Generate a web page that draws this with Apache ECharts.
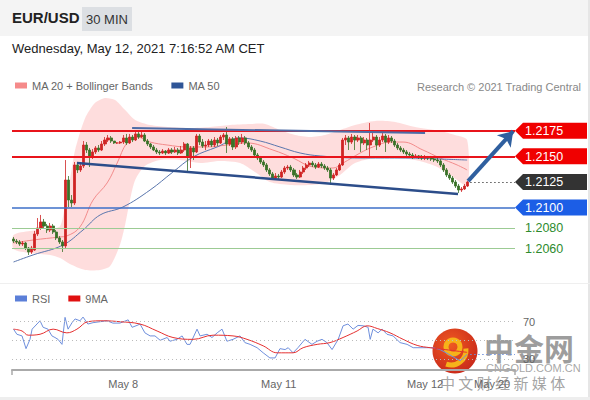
<!DOCTYPE html>
<html><head><meta charset="utf-8">
<script src="https://cdn.jsdelivr.net/npm/echarts@6/dist/echarts.min.js"></script>
<style>html,body{margin:0;padding:0;background:#fff}#c{width:590px;height:400px}</style>
</head><body><div id="c"></div><script>
// ---- data ----
const categoryCount = 165;
// [open, close, low, high]
const candles = [
[1.20692,1.20672,1.20653,1.20712],[1.20672,1.20663,1.20643,1.20692],[1.20663,1.20643,1.20624,1.20682],[1.20643,1.20653,1.20624,1.20672],
[1.20653,1.20604,1.20584,1.20663],[1.20604,1.20565,1.20536,1.20614],[1.20565,1.20604,1.20546,1.20624],[1.20584,1.20741,1.20575,1.20771],
[1.20741,1.20800,1.20721,1.20897],[1.20800,1.20858,1.20780,1.20927],[1.20858,1.20819,1.20800,1.20888],[1.20819,1.20780,1.20751,1.20839],
[1.20780,1.20819,1.20760,1.20849],[1.20819,1.20760,1.20741,1.20839],[1.20760,1.20702,1.20682,1.20780],[1.20702,1.20663,1.20643,1.20721],
[1.20663,1.20624,1.20565,1.20682],[1.20624,1.21269,1.20604,1.21464],[1.21269,1.21073,1.21005,1.21308],[1.21073,1.21044,1.21005,1.21122],
[1.21044,1.21416,1.21024,1.21445],[1.21416,1.21367,1.21337,1.21445],[1.21367,1.21406,1.21347,1.21435],[1.21406,1.21611,1.21386,1.21650],
[1.21611,1.21562,1.21533,1.21640],[1.21562,1.21494,1.21396,1.21582],[1.21494,1.21543,1.21474,1.21572],[1.21543,1.21582,1.21523,1.21601],
[1.21582,1.21562,1.21543,1.21611],[1.21562,1.21621,1.21552,1.21650],[1.21621,1.21660,1.21601,1.21689],[1.21660,1.21680,1.21640,1.21709],
[1.21680,1.21650,1.21631,1.21699],[1.21650,1.21631,1.21621,1.21650],[1.21631,1.21631,1.21621,1.21640],[1.21631,1.21640,1.21621,1.21650],
[1.21640,1.21680,1.21621,1.21709],[1.21680,1.21631,1.21611,1.21719],[1.21631,1.21689,1.21621,1.21719],[1.21689,1.21660,1.21640,1.21709],
[1.21660,1.21719,1.21650,1.21738],[1.21719,1.21689,1.21670,1.21738],[1.21689,1.21709,1.21680,1.21738],[1.21709,1.21650,1.21640,1.21728],
[1.21650,1.21621,1.21601,1.21670],[1.21621,1.21592,1.21572,1.21631],[1.21592,1.21562,1.21552,1.21611],[1.21562,1.21543,1.21523,1.21582],
[1.21543,1.21533,1.21513,1.21562],[1.21533,1.21552,1.21523,1.21572],[1.21552,1.21533,1.21513,1.21562],[1.21533,1.21562,1.21523,1.21582],
[1.21562,1.21543,1.21523,1.21582],[1.21543,1.21562,1.21533,1.21592],[1.21562,1.21533,1.21513,1.21582],[1.21533,1.21562,1.21523,1.21601],
[1.21562,1.21621,1.21543,1.21640],[1.21621,1.21504,1.21347,1.21631],[1.21504,1.21582,1.21386,1.21601],[1.21582,1.21543,1.21464,1.21601],
[1.21543,1.21699,1.21533,1.21719],[1.21699,1.21640,1.21611,1.21719],[1.21640,1.21601,1.21582,1.21670],[1.21601,1.21611,1.21562,1.21650],
[1.21611,1.21650,1.21592,1.21670],[1.21650,1.21611,1.21592,1.21670],[1.21611,1.21660,1.21592,1.21689],[1.21660,1.21631,1.21601,1.21680],
[1.21631,1.21689,1.21621,1.21709],[1.21689,1.21709,1.21660,1.21728],[1.21709,1.21621,1.21533,1.21787],[1.21621,1.21670,1.21601,1.21689],
[1.21670,1.21592,1.21562,1.21689],[1.21592,1.21680,1.21572,1.21699],[1.21680,1.21640,1.21611,1.21699],[1.21640,1.21680,1.21621,1.21719],
[1.21680,1.21631,1.21611,1.21699],[1.21631,1.21592,1.21572,1.21650],[1.21592,1.21562,1.21543,1.21611],[1.21562,1.21513,1.21494,1.21582],
[1.21513,1.21484,1.21464,1.21533],[1.21484,1.21445,1.21425,1.21504],[1.21445,1.21416,1.21396,1.21464],[1.21416,1.21367,1.21347,1.21435],
[1.21367,1.21328,1.21308,1.21386],[1.21328,1.21288,1.21269,1.21347],[1.21288,1.21308,1.21279,1.21337],[1.21308,1.21298,1.21279,1.21328],
[1.21298,1.21347,1.21288,1.21367],[1.21347,1.21386,1.21328,1.21406],[1.21386,1.21396,1.21367,1.21416],[1.21396,1.21367,1.21347,1.21416],
[1.21367,1.21318,1.21298,1.21386],[1.21318,1.21298,1.21279,1.21337],[1.21298,1.21347,1.21288,1.21367],[1.21347,1.21386,1.21328,1.21406],
[1.21386,1.21416,1.21367,1.21435],[1.21416,1.21435,1.21396,1.21455],[1.21435,1.21416,1.21396,1.21455],[1.21416,1.21396,1.21376,1.21435],
[1.21396,1.21425,1.21386,1.21445],[1.21425,1.21406,1.21386,1.21445],[1.21406,1.21386,1.21367,1.21425],[1.21386,1.21367,1.21347,1.21406],
[1.21367,1.21288,1.21220,1.21386],[1.21288,1.21318,1.21269,1.21337],[1.21318,1.21367,1.21308,1.21386],[1.21367,1.21416,1.21357,1.21435],
[1.21416,1.21660,1.21406,1.21680],[1.21660,1.21680,1.21611,1.21709],[1.21680,1.21640,1.21562,1.21699],[1.21640,1.21689,1.21621,1.21719],
[1.21689,1.21660,1.21562,1.21709],[1.21660,1.21680,1.21640,1.21709],[1.21680,1.21631,1.21543,1.21699],[1.21631,1.21660,1.21611,1.21689],
[1.21660,1.21611,1.21562,1.21680],[1.21611,1.21660,1.21484,1.21826],[1.21660,1.21689,1.21640,1.21728],[1.21689,1.21611,1.21562,1.21709],
[1.21611,1.21660,1.21592,1.21689],[1.21660,1.21699,1.21640,1.21728],[1.21699,1.21640,1.21543,1.21719],[1.21640,1.21680,1.21621,1.21709],
[1.21680,1.21650,1.21631,1.21699],[1.21650,1.21611,1.21592,1.21670],[1.21611,1.21582,1.21562,1.21631],[1.21582,1.21562,1.21543,1.21601],
[1.21562,1.21543,1.21523,1.21582],[1.21543,1.21523,1.21504,1.21562],[1.21523,1.21513,1.21494,1.21543],[1.21513,1.21494,1.21474,1.21533],
[1.21494,1.21504,1.21484,1.21523],[1.21504,1.21494,1.21474,1.21513],[1.21494,1.21484,1.21464,1.21513],[1.21484,1.21494,1.21464,1.21513],
[1.21494,1.21484,1.21464,1.21504],[1.21484,1.21474,1.21455,1.21504],[1.21474,1.21464,1.21445,1.21494],[1.21464,1.21455,1.21435,1.21484],
[1.21455,1.21416,1.21396,1.21474],[1.21416,1.21367,1.21347,1.21435],[1.21367,1.21318,1.21298,1.21386],[1.21318,1.21288,1.21269,1.21337],
[1.21288,1.21249,1.21230,1.21308],[1.21249,1.21210,1.21191,1.21269],[1.21210,1.21171,1.21142,1.21230],[1.21171,1.21181,1.21152,1.21200],
[1.21181,1.21210,1.21171,1.21230],[1.21210,1.21249,1.21200,1.21259]
];
// [candle index, price]
const ma20 = [[0,1.20653],[6.4,1.20682],[15.2,1.20712],[17.5,1.20722],[21.8,1.20810],[26.1,1.21073],[30.7,1.21240],[34,1.21435],[37.2,1.21631],[40.5,1.21689],[44.8,1.21640],[50.4,1.21611],[56.9,1.21592],[63.5,1.21592],[70,1.21611],[76.6,1.21631],[85.1,1.21562],[91.7,1.21484],[98.3,1.21396],[104.8,1.21386],[108.1,1.21435],[113.7,1.21533],[117.9,1.21592],[123.5,1.21640],[127.8,1.21640],[134.3,1.21562],[139.9,1.21484],[145.5,1.21416],[148.8,1.21367]];
const ma50 = [[0,1.20467],[6.4,1.20536],[16.2,1.20633],[22.8,1.20780],[28.4,1.20927],[35.9,1.21005],[44.8,1.21171],[52.3,1.21347],[58.9,1.21494],[66.8,1.21592],[74.3,1.21680],[80.9,1.21650],[87.4,1.21592],[94,1.21533],[100.6,1.21504],[113.7,1.21484],[126.8,1.21484],[139.9,1.21474],[148.8,1.21464]];
const bbUpper = [[0,1.20731],[5.4,1.20770],[12,1.20790],[15.3,1.20819],[16.9,1.21024],[18.5,1.21269],[20.2,1.21562],[23.5,1.21875],[26.7,1.22022],[30,1.22071],[33.3,1.22051],[36.6,1.21953],[39.9,1.21856],[44.8,1.21807],[51.3,1.21787],[57.9,1.21777],[64.5,1.21787],[71,1.21807],[77.6,1.21817],[82.5,1.21817],[87.4,1.21758],[92.4,1.21709],[97.3,1.21689],[102.2,1.21709],[107.1,1.21758],[112,1.21807],[118.6,1.21846],[125.2,1.21836],[131.7,1.21787],[139.9,1.21748],[144.8,1.21709],[148.8,1.21660]];
const bbLower = [[0,1.20594],[5.4,1.20555],[12,1.20536],[15.3,1.20506],[18.5,1.20448],[23.5,1.20389],[28.4,1.20389],[31.7,1.20428],[34.9,1.20633],[36.6,1.20829],[38.2,1.21073],[39.9,1.21269],[43.1,1.21406],[48.1,1.21464],[54.6,1.21464],[61.2,1.21435],[67.7,1.21455],[74.3,1.21435],[79.2,1.21347],[84.1,1.21249],[90.7,1.21220],[97.3,1.21220],[102.2,1.21240],[107.1,1.21318],[112,1.21435],[118.6,1.21484],[125.2,1.21484],[131.7,1.21464],[138.3,1.21406],[143.2,1.21318],[148.8,1.21220]];
const supportLine = [[20.8,1.21435],[145.8,1.21132]];
const resistanceLine = [[38.9,1.21777],[135,1.21728]];
const arrowLine = [[149.1,1.21258],[163.9,1.21746]];
const levels = [1.2175,1.2150,1.2125,1.2100,1.2080,1.2060];
const levelLabels = ['1.2175','1.2150','1.2125','1.2100','1.2080','1.2060'];
const lastCandleIndex = 149;
const rsi = [[0,62],[1.1,56.5],[2.8,54.7],[4.1,41],[5.4,51],[6.1,62],[8.7,71],[9.7,64],[11.3,62],[12.6,54.7],[13.6,53],[14.6,51],[15.9,45.6],[16.9,74.7],[17.9,62],[19.2,69],[20.2,73],[21.8,71],[22.8,75],[24.4,67.5],[26.1,69],[28.4,70],[30.7,71],[32.6,68.5],[34.9,68.5],[37.6,72],[38.9,64],[40.5,66],[41.5,67.5],[43.1,58],[44.8,54.7],[46.4,54.7],[48.1,50],[50.4,53],[51.3,49],[53.6,51],[55.3,54.7],[56.9,45.6],[57.9,45.6],[60.2,62],[61.2,54.7],[63.5,56.5],[65.1,53],[66.8,58],[68.4,62],[70,49],[72,51],[74.3,54.7],[75.9,47.5],[77.6,45.6],[79.9,42],[81.9,36.5],[84.1,31],[85.8,31],[87.4,41],[89.1,40],[90.1,42],[91.7,36.5],[93.3,42],[95.6,51],[97.9,45.6],[99.6,49],[101.2,51],[102.8,47.5],[104.5,40],[106.5,51],[108.1,65.6],[109.7,67.5],[111.4,62],[113,66],[114.7,65.6],[116.3,64],[117,51],[117.9,62],[119.6,58],[120.9,62],[122.5,56.5],[124.5,54.7],[126.8,47.5],[129.1,45.6],[131.1,42],[134.3,42],[137.6,42],[139.9,40],[142.2,36],[144.8,31],[146.5,28],[147.9,32],[148.8,35]];
const rsiMa = [[0,62],[2.8,60],[4.8,55.5],[8.7,56.5],[13,62],[17.5,58],[20.8,62],[24.4,70],[29.4,71],[34.9,70],[41.5,67.5],[47.1,60],[52.3,53],[58.9,51],[65.5,55.5],[72,54.7],[76.6,51],[81.9,44],[86.5,36.5],[91.7,36.5],[95,42],[99.6,45.6],[103.8,47.5],[108.1,53],[112.7,60],[116,65.6],[119.3,62.7],[123.5,58],[127.8,51],[132.4,44.5],[136.7,42],[141.6,40],[148.8,37]];
const rsiLast = 35;
const rsiLevels = [70,50,30];
const xLabelIdx = [36,87,135,157];
const xLabels = ['May 8','May 11','May 12','May 20'];

// ---- styles ----
const FONT = '"Liberation Sans", Arial, sans-serif';
const levelStyle = [
 {color:'#e8141b', width:2, tag:'#f00000', text:'#fff'},
 {color:'#e8141b', width:2, tag:'#f00000', text:'#fff'},
 {color:'#555', width:1, tag:'#333333', text:'#fff', partial:true},
 {color:'#3d6fc8', width:1.5, tag:'#1c5ee6', text:'#fff'},
 {color:'#9ccb94', width:1, tag:null, text:'#2e8b2e'},
 {color:'#9ccb94', width:1, tag:null, text:'#2e8b2e'}
];

const chart = echarts.init(document.getElementById('c'), null, {renderer:'svg'});
const cats = Array.from({length: categoryCount}, (_, i) => String(i));
const xMin = -0.5, xMax = categoryCount - 0.5;

const levelLineData = levels.map((v,i)=>{
  const st = levelStyle[i];
  if (st.partial) {
    return [{coord:[lastCandleIndex+0.8, v], lineStyle:{color:st.color, width:1, type:[1.5,2.5]}}, {coord:[xMax, v]}];
  }
  return [{coord:[xMin, v], lineStyle:{color:st.color, width:st.width, type:'solid'}}, {coord:[xMax, v]}];
});

const option = {
  animation:false,
  textStyle:{fontFamily:FONT},
  grid:[
    {left:12, right:75, top:95, height:180},
    {left:12, right:75, top:305, height:65}
  ],
  xAxis:[
    {type:'category', gridIndex:0, data:cats, show:false},
    {type:'value', gridIndex:0, min:xMin, max:xMax, show:false},
    {type:'value', gridIndex:1, min:xMin, max:xMax,
     axisLine:{show:true, lineStyle:{color:'#aaa', width:2}},
     axisTick:{show:true, customValues:[xMin, xMax], length:5, lineStyle:{color:'#aaa', width:1.5}},
     axisLabel:{customValues:xLabelIdx, formatter:(v)=>{const k=xLabelIdx.indexOf(Math.round(v)); return k>=0?xLabels[k]:'';}, color:'#666', fontSize:11, margin:8, fontFamily:FONT},
     splitLine:{show:false}}
  ],
  yAxis:[
    {type:'value', gridIndex:0, min:1.2034, max:1.2210, show:false},
    {type:'value', gridIndex:1, min:18, max:88, show:false}
  ],
  legend:[
    {top:75, left:10, icon:'rect', itemWidth:12, itemHeight:6, itemGap:18, selectedMode:false,
     textStyle:{color:'#666', fontSize:11, fontFamily:FONT}, data:['MA 20 + Bollinger Bands','MA 50']},
    {top:288, left:10, icon:'rect', itemWidth:12, itemHeight:6, itemGap:18, selectedMode:false,
     textStyle:{color:'#666', fontSize:11, fontFamily:FONT}, data:['RSI','9MA']}
  ],
  series:[
    {type:'custom', name:'band', xAxisIndex:1, yAxisIndex:0, silent:true, z:1, data:[[0,1.21]],
     renderItem:(params, api)=>{
       const pts = bbUpper.map(p=>api.coord(p)).concat(bbLower.slice().reverse().map(p=>api.coord(p)));
       return {type:'polygon', shape:{points:pts, smooth:0.25}, style:{fill:'rgba(252,165,165,0.38)'}};
     }},
    {type:'line', name:'levels', xAxisIndex:1, yAxisIndex:0, data:[], showSymbol:false, z:2,
     markLine:{silent:true, symbol:'none', label:{show:false}, data:levelLineData}},
    {type:'candlestick', name:'EUR/USD', xAxisIndex:0, yAxisIndex:0, data:candles, barWidth:2.6, z:4,
     itemStyle:{color:'#cf2424', color0:'#3a7228', borderColor:'#cf2424', borderColor0:'#3a7228', borderWidth:0.8}},
    {type:'line', name:'MA 20 + Bollinger Bands', xAxisIndex:1, yAxisIndex:0, data:ma20, smooth:0.4, showSymbol:false, z:3,
     color:'#f58a8a', lineStyle:{color:'#f28b8b', width:1}},
    {type:'line', name:'MA 50', xAxisIndex:1, yAxisIndex:0, data:ma50, smooth:0.4, showSymbol:false, z:3,
     color:'#2f5597', lineStyle:{color:'#5a76ad', width:1}},
    {type:'line', name:'support', xAxisIndex:1, yAxisIndex:0, data:supportLine, showSymbol:false, z:5,
     lineStyle:{color:'#2c4d8a', width:2.5}},
    {type:'line', name:'resistance', xAxisIndex:1, yAxisIndex:0, data:resistanceLine, showSymbol:false, z:5,
     lineStyle:{color:'#4d6ca6', width:2},
     markLine:{silent:true, symbol:['none','arrow'], symbolSize:14, label:{show:false},
       lineStyle:{color:'#2f5f9f', width:4, type:'solid'},
       data:[[{coord:arrowLine[0]},{coord:arrowLine[1]}]]}},
    {type:'custom', name:'tags', xAxisIndex:1, yAxisIndex:0, silent:true, z:6, data:levels.map(v=>[0,v]),
     renderItem:(params, api)=>{
       const i = params.dataIndex, st = levelStyle[i];
       const y = api.coord([0, api.value(1)])[1];
       const x0 = params.coordSys.x + params.coordSys.width;
       const ch = [];
       if (st.tag) ch.push({type:'polygon', shape:{points:[[x0,y],[x0+8,y-8],[x0+72,y-8],[x0+72,y+8],[x0+8,y+8]]}, style:{fill:st.tag}});
       ch.push({type:'text', style:{text:levelLabels[i], x:x0+10, y:y+0.5, verticalAlign:'middle', fill:st.text, font:'12.5px '+FONT}});
       return {type:'group', children:ch};
     }},
    {type:'line', name:'RSI', xAxisIndex:2, yAxisIndex:1, data:rsi, showSymbol:false, z:3,
     color:'#5b7fd8', lineStyle:{color:'#6f8fdc', width:1},
     markLine:{silent:true, symbol:'none',
       lineStyle:{color:'#bbb', width:1, type:[1,3]},
       label:{show:true, position:'end', distance:8, color:'#666', fontSize:11, fontFamily:FONT, formatter:'{c}'},
       data:rsiLevels.map(v=>({yAxis:v, label:{show:v!==50}}))}},
    {type:'line', name:'9MA', xAxisIndex:2, yAxisIndex:1, data:rsiMa, smooth:0.4, showSymbol:false, z:4,
     color:'#e01010', lineStyle:{color:'#e53030', width:1}},
    {type:'line', name:'rsiLast', xAxisIndex:2, yAxisIndex:1, data:[], showSymbol:false,
     markLine:{silent:true, symbol:'none', label:{show:false}, lineStyle:{color:'#6f8fdc', width:1, type:[1.5,2.5]},
       data:[[{coord:[lastCandleIndex+0.8, rsiLast]},{coord:[xMax, rsiLast]}]]}}
  ],
  graphic:[
    {type:'rect', z:-10, shape:{x:0,y:0,width:590,height:36}, style:{fill:'#f4f4f4'}},
    {type:'rect', z:-10, shape:{x:588,y:0,width:2,height:400}, style:{fill:'#e6e6e6'}},
    {type:'rect', z:-10, shape:{x:0,y:397,width:590,height:3}, style:{fill:'#eeeeee'}},
    {type:'rect', z:-10, shape:{x:0,y:283,width:590,height:1}, style:{fill:'#efefef'}},
    {type:'text', left:12, top:10, style:{text:'EUR/USD', font:'bold 15px '+FONT, fill:'#222'}},
    {type:'rect', shape:{x:82,y:7,width:50,height:24}, style:{fill:'#dcdfe3'}},
    {type:'text', x:107, y:19.5, style:{text:'30 MIN', font:'13px '+FONT, fill:'#333', align:'center', verticalAlign:'middle'}},
    {type:'text', x:12, y:48.5, style:{text:'Wednesday, May 12, 2021 7:16:52 AM CET', font:'13px '+FONT, fill:'#222', verticalAlign:'middle'}},
    {type:'text', x:581, y:86.5, style:{text:'Research © 2021 Trading Central', font:'11px '+FONT, fill:'#888', align:'right', verticalAlign:'middle'}},
    {type:'group', z:100, silent:true, children:[
      {type:'circle', shape:{cx:455, cy:351, r:22.5}, style:{fill:{type:'radial', x:0.4, y:0.35, r:0.7, colorStops:[{offset:0,color:'#ef5a22'},{offset:1,color:'#c8281a'}]}}},
      {type:'arc', shape:{cx:453, cy:347, r:7, startAngle:0, endAngle:Math.PI*2}, style:{stroke:'#f6b21a', lineWidth:5, fill:'none'}},
      {type:'arc', shape:{cx:451, cy:350, r:15, startAngle:-0.1, endAngle:1.9}, style:{stroke:'#f6b21a', lineWidth:5, fill:'none'}},
      {type:'text', x:484, y:347, style:{text:'中金网', font:'bold 30px "Noto Sans CJK SC"', fill:'rgba(140,140,140,0.85)', verticalAlign:'middle'}},
      {type:'text', x:486, y:368, style:{text:'CNGOLD.COM.CN', font:'11px '+FONT, fill:'rgba(150,150,150,0.85)', verticalAlign:'middle'}},
      {type:'text', x:440, y:382, style:{text:'中 文 财 经 新 媒 体', font:'15px "Noto Sans CJK SC"', fill:'rgba(140,140,140,0.8)', verticalAlign:'middle'}}
    ]}
  ]
};
chart.setOption(option);
</script></body></html>
